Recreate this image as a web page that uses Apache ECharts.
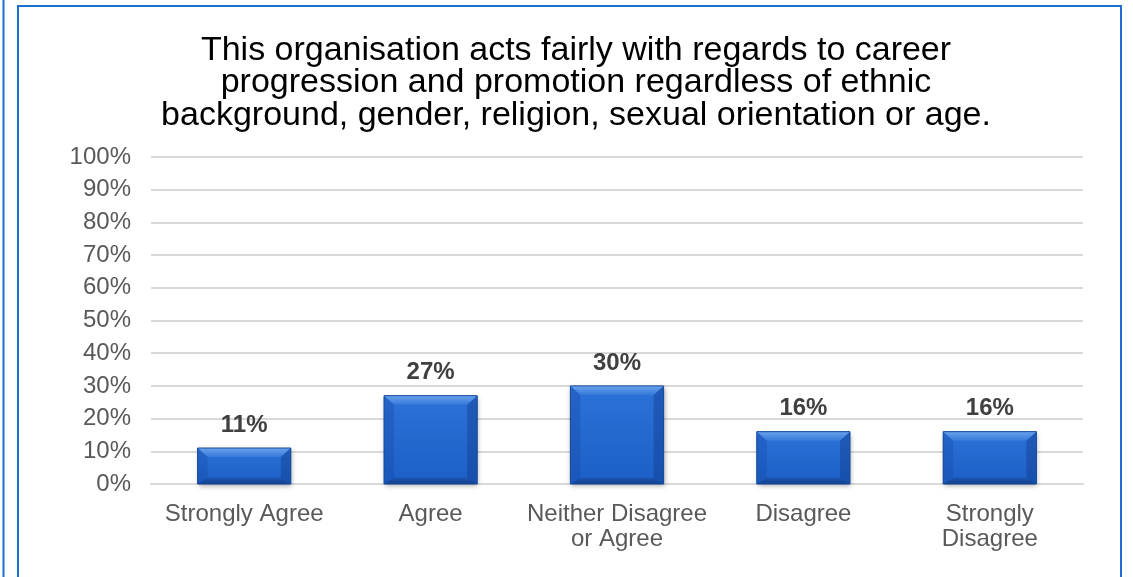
<!DOCTYPE html>
<html>
<head>
<meta charset="utf-8">
<script src="https://cdn.jsdelivr.net/npm/echarts@6/dist/echarts.min.js"></script>
<style>
  html, body { margin: 0; padding: 0; background: #fff; }
  #chart { width: 1133px; height: 577px; }
</style>
</head>
<body>
<div id="chart"></div>
<script>
// Survey responses
const categories = ['Strongly Agree', 'Agree', 'Neither Disagree\nor Agree', 'Disagree', 'Strongly\nDisagree'];
const shares = [11, 27, 30, 16, 16];
const titleText = 'This organisation acts fairly with regards to career\nprogression and promotion regardless of ethnic\nbackground, gender, religion, sexual orientation or age.';

const FONT = '"Liberation Sans", Arial, sans-serif';

// Bevelled bar: body, lit top, shaded bottom and sides, plus value label above
function renderBevelBar(params, api) {
  const idx = api.value(0);
  const val = api.value(1);
  const top = api.coord([idx, val]);
  const base = api.coord([idx, 0]);
  const w = api.size([1, 0])[0] * 0.5;
  const x0 = top[0] - w / 2, x1 = top[0] + w / 2;
  const y0 = top[1], y1 = base[1];
  const h = y1 - y0;
  const b = Math.min(9, h / 3);
  const bx = 10;
  return {
    type: 'group',
    children: [
      { // drop shadow
        type: 'rect',
        shape: { x: x0, y: y0, width: w, height: h },
        style: { fill: '#1f62c8', shadowBlur: 5, shadowColor: 'rgba(0,0,0,0.35)', shadowOffsetX: 1, shadowOffsetY: 2 }
      },
      { // body
        type: 'rect',
        shape: { x: x0, y: y0, width: w, height: h },
        style: {
          fill: new echarts.graphic.LinearGradient(0, 0, 0, 1, [
            { offset: 0, color: '#2d72d8' },
            { offset: 1, color: '#1c5fc6' }
          ])
        }
      },
      { // top bevel
        type: 'polygon',
        shape: { points: [[x0, y0], [x1, y0], [x1 - bx, y0 + b], [x0 + bx, y0 + b]] },
        style: {
          fill: new echarts.graphic.LinearGradient(0, 0, 0, 1, [
            { offset: 0, color: '#6aa3ec' },
            { offset: 1, color: '#3579da' }
          ])
        }
      },
      { // left bevel
        type: 'polygon',
        shape: { points: [[x0, y0], [x0 + bx, y0 + b], [x0 + bx, y1 - b * 0.7], [x0, y1]] },
        style: { fill: 'rgba(20,70,160,0.3)' }
      },
      { // right bevel
        type: 'polygon',
        shape: { points: [[x1, y0], [x1 - bx, y0 + b], [x1 - bx, y1 - b * 0.7], [x1, y1]] },
        style: { fill: 'rgba(15,55,135,0.4)' }
      },
      { // bottom bevel
        type: 'polygon',
        shape: { points: [[x0, y1], [x1, y1], [x1 - bx, y1 - b * 0.7], [x0 + bx, y1 - b * 0.7]] },
        style: {
          fill: new echarts.graphic.LinearGradient(0, 0, 0, 1, [
            { offset: 0, color: '#1a56b4' },
            { offset: 1, color: '#123f8a' }
          ])
        }
      },
      { // outline
        type: 'rect',
        shape: { x: x0, y: y0, width: w, height: h },
        style: { fill: null, stroke: '#164a9e', lineWidth: 1 }
      },
      { // value label
        type: 'text',
        x: top[0],
        y: y0 - 23,
        style: {
          text: val + '%',
          fill: '#404040',
          font: 'bold 24px ' + FONT,
          align: 'center',
          verticalAlign: 'middle'
        }
      }
    ]
  };
}

const chart = echarts.init(document.getElementById('chart'), null, { renderer: 'canvas' });
chart.setOption({
  animation: false,
  backgroundColor: '#ffffff',
  title: {
    text: titleText,
    left: 571,
    top: 29,
    textAlign: 'center',
    textStyle: { fontFamily: FONT, fontSize: 34, fontWeight: 'normal', color: '#000000', lineHeight: 32.5 }
  },
  graphic: [
    { type: 'rect', shape: { x: 18, y: 6, width: 1103, height: 580 }, style: { fill: null, stroke: '#1f6fd0', lineWidth: 2 }, silent: true, z: 100 },
    { type: 'line', shape: { x1: 3.5, y1: 0, x2: 3.5, y2: 577 }, style: { stroke: '#1f6fd0', lineWidth: 2 }, silent: true, z: 100 }
  ],
  grid: { left: 151, right: 50, top: 157, bottom: 93, containLabel: false },
  xAxis: {
    type: 'category',
    data: categories,
    axisLine: { lineStyle: { color: '#d9d9d9', width: 2 } },
    axisTick: { show: false },
    axisLabel: { color: '#595959', fontFamily: FONT, fontSize: 24, lineHeight: 25, margin: 18, interval: 0 }
  },
  yAxis: {
    type: 'value',
    min: 0,
    max: 100,
    interval: 10,
    axisLine: { show: false },
    axisTick: { show: false },
    splitLine: { lineStyle: { color: '#d9d9d9', width: 2 } },
    axisLabel: { color: '#595959', fontFamily: FONT, fontSize: 24, margin: 20, formatter: '{value}%' }
  },
  series: [{
    type: 'custom',
    renderItem: renderBevelBar,
    data: shares.map((v, i) => [i, v]),
    encode: { x: 0, y: 1 },
    z: 5
  }]
});
</script>
</body>
</html>
